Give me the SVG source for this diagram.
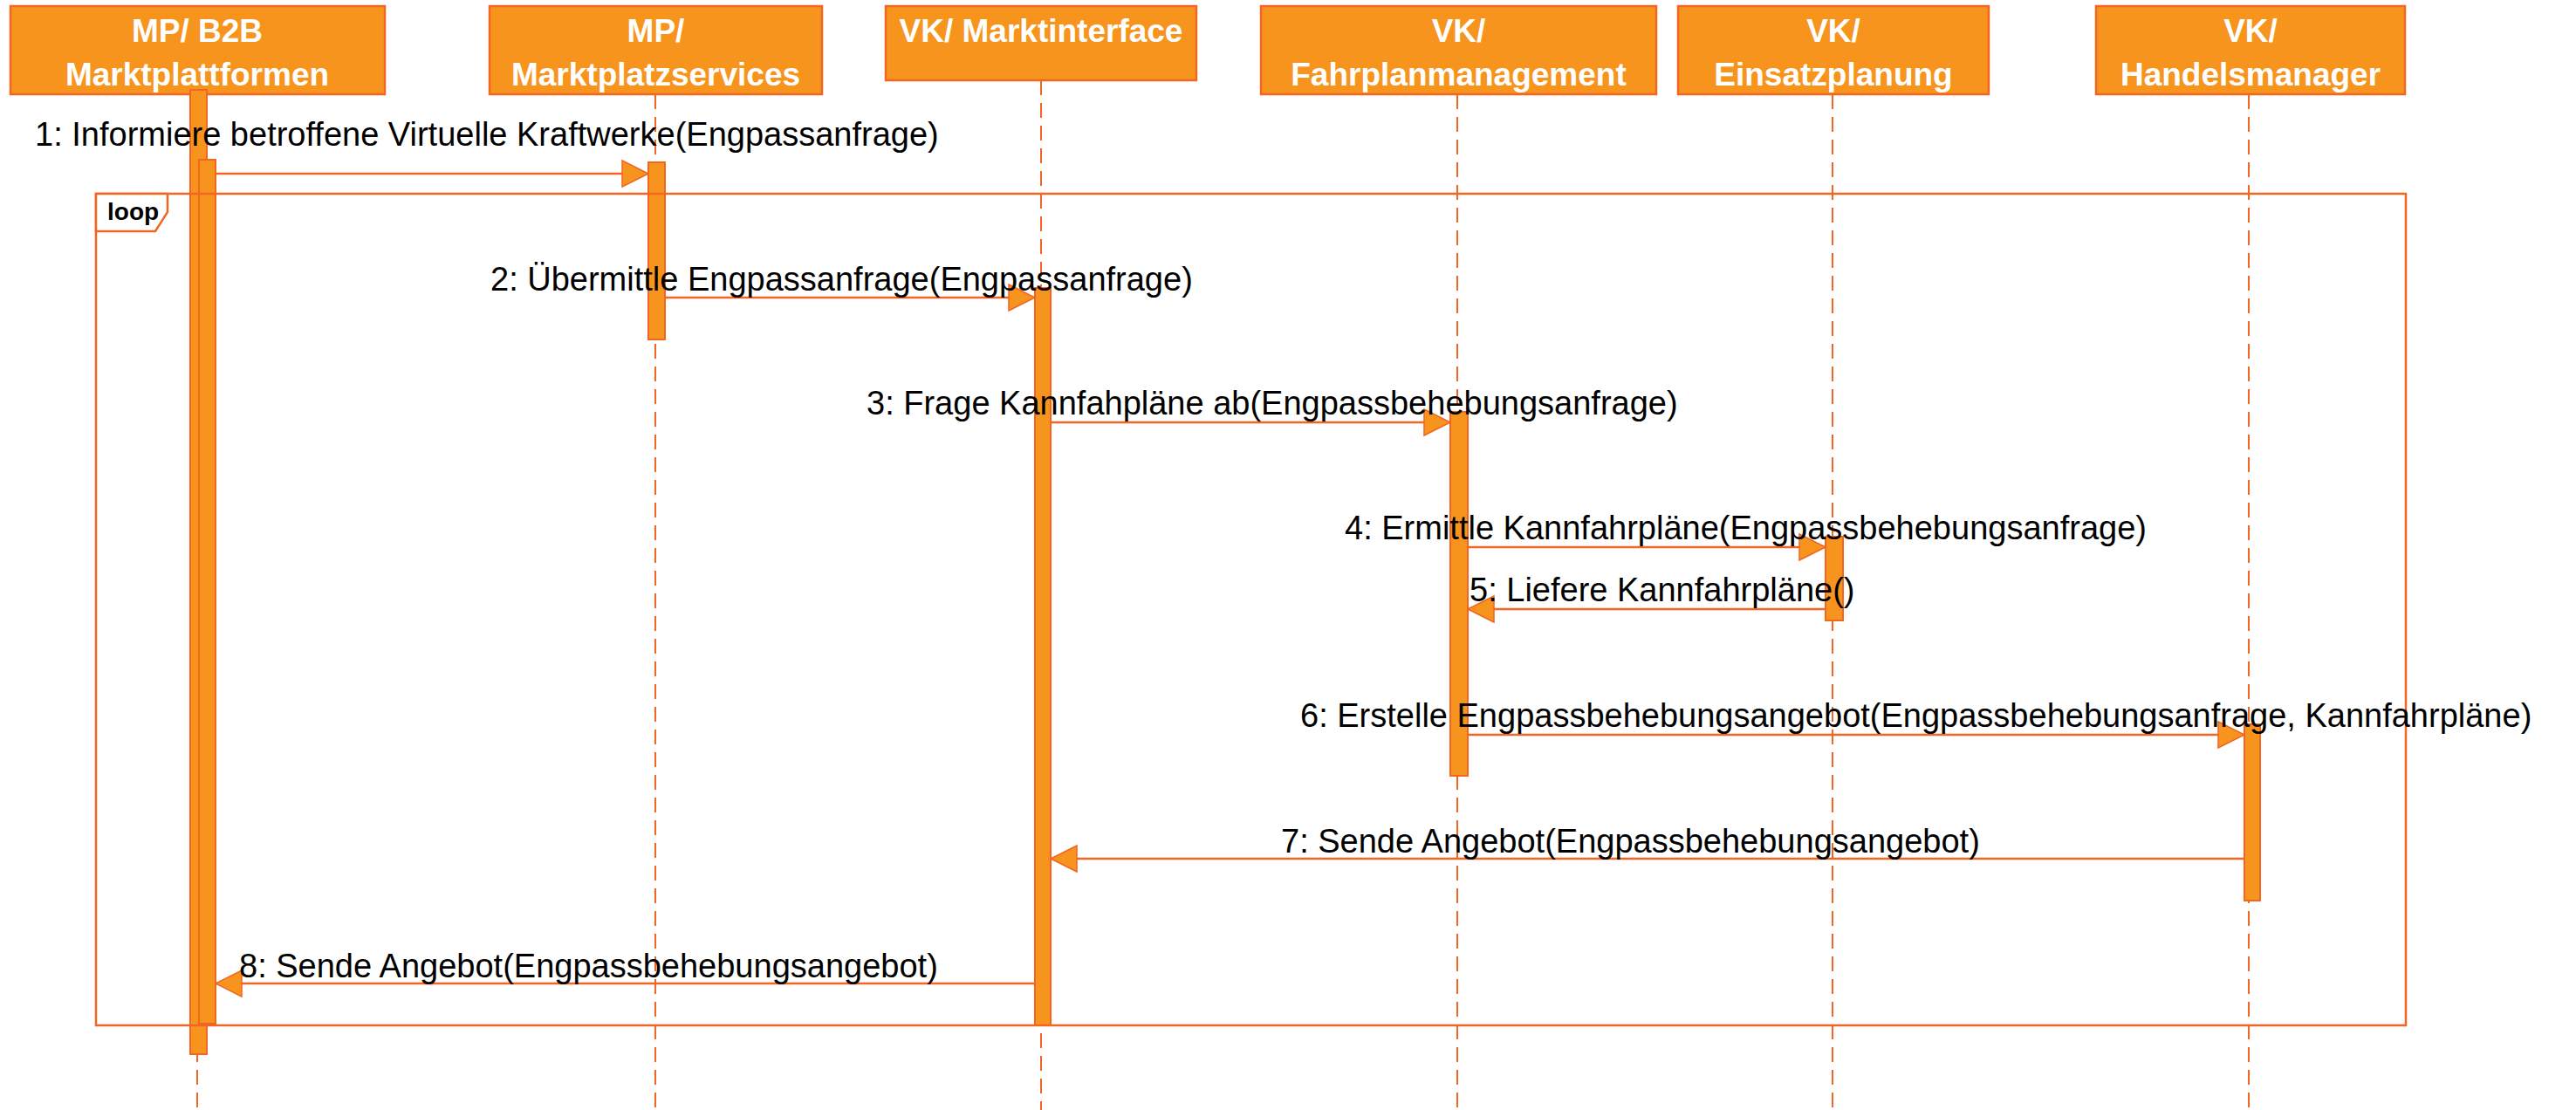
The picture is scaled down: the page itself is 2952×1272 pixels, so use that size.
<svg xmlns="http://www.w3.org/2000/svg" width="2952" height="1272" viewBox="0 0 2952 1272">
<defs>
<style>
.box{fill:#F7941D;stroke:#F26522;stroke-width:2.5}
.hdr{font-family:"Liberation Sans",Arial,sans-serif;font-weight:bold;font-size:37px;fill:#FFFFFF;text-anchor:middle}
.life{stroke:#F26522;stroke-width:2;stroke-dasharray:17 9;fill:none}
.bar{fill:#F7941D;stroke:#F26522;stroke-width:2}
.msg{stroke:#F26522;stroke-width:2.5;fill:none;marker-end:url(#ah)}
.lbl{font-family:"Liberation Sans",Arial,sans-serif;font-size:38px;fill:#000000}
.frame{fill:none;stroke:#F26522;stroke-width:2.5}
.ftag{fill:#FFFFFF;stroke:#F26522;stroke-width:2.5}
.ftxt{font-family:"Liberation Sans",Arial,sans-serif;font-weight:bold;font-size:28px;fill:#000000}
</style>
<marker id="ah" markerUnits="userSpaceOnUse" markerWidth="34" markerHeight="34" refX="30" refY="15" orient="auto" viewBox="-2 -2 34 34">
<path d="M0,0 L30,15 L0,30 Z" fill="#F7941D" stroke="#F26522" stroke-width="1.5"/>
</marker>
</defs>
<rect x="0" y="0" width="2952" height="1272" fill="#FFFFFF"/>

<g id="lifelines">
<line class="life" x1="226" y1="108" x2="226" y2="1272"/>
<line class="life" x1="751" y1="108" x2="751" y2="1272"/>
<line class="life" x1="1193" y1="92" x2="1193" y2="1272"/>
<line class="life" x1="1670" y1="108" x2="1670" y2="1272"/>
<line class="life" x1="2100" y1="108" x2="2100" y2="1272"/>
<line class="life" x1="2577" y1="108" x2="2577" y2="1272"/>
</g>

<g id="node-mp-b2b">
<rect class="box" x="12" y="7" width="429" height="101"/>
<text class="hdr" x="226" y="48">MP/ B2B</text>
<text class="hdr" x="226" y="98">Marktplattformen</text>
</g>
<g id="node-mp-services">
<rect class="box" x="561" y="7" width="381" height="101"/>
<text class="hdr" x="751.5" y="48">MP/</text>
<text class="hdr" x="751.5" y="98">Marktplatzservices</text>
</g>
<g id="node-vk-marktinterface">
<rect class="box" x="1015" y="7" width="356" height="85"/>
<text class="hdr" x="1193" y="48">VK/ Marktinterface</text>
</g>
<g id="node-vk-fahrplan">
<rect class="box" x="1445" y="7" width="453" height="101"/>
<text class="hdr" x="1671.5" y="48">VK/</text>
<text class="hdr" x="1671.5" y="98">Fahrplanmanagement</text>
</g>
<g id="node-vk-einsatz">
<rect class="box" x="1923" y="7" width="356" height="101"/>
<text class="hdr" x="2101" y="48">VK/</text>
<text class="hdr" x="2101" y="98">Einsatzplanung</text>
</g>
<g id="node-vk-handel">
<rect class="box" x="2402" y="7" width="354" height="101"/>
<text class="hdr" x="2579" y="48">VK/</text>
<text class="hdr" x="2579" y="98">Handelsmanager</text>
</g>

<g id="activations">
<rect class="bar" x="218" y="103" width="19" height="1105"/>
<rect class="bar" x="228" y="183" width="19" height="990"/>
<rect class="bar" x="743" y="186" width="19" height="203"/>
<rect class="bar" x="1186" y="330" width="18" height="845"/>
<rect class="bar" x="1662" y="472" width="20" height="417"/>
<rect class="bar" x="2092" y="615" width="20" height="96"/>
<rect class="bar" x="2572" y="830" width="18" height="202"/>
</g>

<g id="loop-fragment">
<rect class="frame" x="110" y="222" width="2647" height="953"/>
<path class="ftag" d="M110,222 H192 V243 L178,265 H110 Z"/>
<text class="ftxt" x="123" y="252">loop</text>
</g>

<g id="connectors">
<line class="msg" x1="247" y1="199" x2="743" y2="199"/>
<line class="msg" x1="762" y1="341" x2="1186" y2="341"/>
<line class="msg" x1="1204" y1="484" x2="1662" y2="484"/>
<line class="msg" x1="1682" y1="627" x2="2092" y2="627"/>
<line class="msg" x1="2092" y1="698" x2="1682" y2="698"/>
<line class="msg" x1="1682" y1="842" x2="2572" y2="842"/>
<line class="msg" x1="2572" y1="984" x2="1204" y2="984"/>
<line class="msg" x1="1186" y1="1127" x2="247" y2="1127"/>
</g>

<g id="labels">
<text class="lbl" x="40" y="167">1: Informiere betroffene Virtuelle Kraftwerke(Engpassanfrage)</text>
<text class="lbl" x="562" y="333">2: Übermittle Engpassanfrage(Engpassanfrage)</text>
<text class="lbl" x="993" y="475">3: Frage Kannfahpläne ab(Engpassbehebungsanfrage)</text>
<text class="lbl" x="1541" y="618">4: Ermittle Kannfahrpläne(Engpassbehebungsanfrage)</text>
<text class="lbl" x="1684" y="689">5: Liefere Kannfahrpläne()</text>
<text class="lbl" x="1490" y="833">6: Erstelle Engpassbehebungsangebot(Engpassbehebungsanfrage, Kannfahrpläne)</text>
<text class="lbl" x="1468" y="977">7: Sende Angebot(Engpassbehebungsangebot)</text>
<text class="lbl" x="274" y="1120">8: Sende Angebot(Engpassbehebungsangebot)</text>
</g>
</svg>
